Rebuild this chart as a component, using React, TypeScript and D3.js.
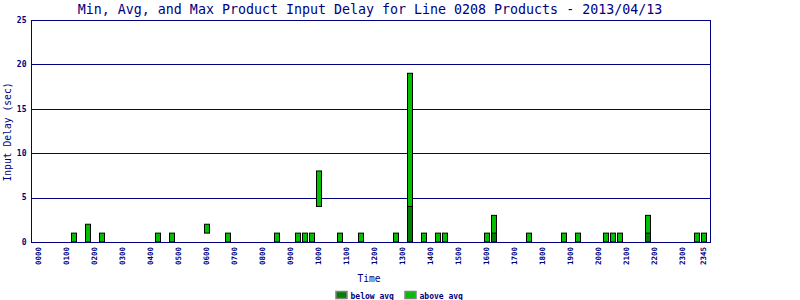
import React from "react";
import * as d3 from "d3";

const slots: string[] = [];
for (let h = 0; h < 24; h++) for (let m = 0; m < 60; m += 15) slots.push(String(h).padStart(2, "0") + String(m).padStart(2, "0"));

const tickLabels = ["0000","0100","0200","0300","0400","0500","0600","0700","0800","0900","1000","1100","1200","1300","1400","1500","1600","1700","1800","1900","2000","2100","2200","2300","2345"];
const yTicks = [0, 5, 10, 15, 20, 25];

const barTimes = ["0115","0145","0215","0415","0445","0600","0645","0830","0915","0930","0945","1000","1045","1130","1245","1315","1345","1415","1430","1600","1615","1730","1845","1915","2015","2030","2045","2145","2330","2345"];
const minValues = [0,0,0,0,0,1,0,0,0,0,0,4,0,0,0,0,0,0,0,0,0,0,0,0,0,0,0,0,0,0];
const avgValues = [0,0,0,0,0,1,0,0,0,0,0,4,0,0,0,4,0,0,0,0,1,0,0,0,0,0,0,1,0,0];
const maxValues = [1,2,1,1,1,2,1,1,1,1,1,8,1,1,1,19,1,1,1,1,3,1,1,1,1,1,1,3,1,1];

const NAVY = "#000080";
const DARK = "#008000";
const LIGHT = "#00c000";
const MONO = "'DejaVu Sans Mono', monospace";

export default function App() {
  const left = 31, right = 710, top = 20, bottom = 242;
  const x = d3.scalePoint<string>().domain(slots).range([39, 704]);
  const y = d3.scaleLinear().domain([0, 25]).range([bottom, top]);
  const bw = 5;

  return (
    <svg width={800} height={300} style={{ position: "absolute", left: 0, top: 0, background: "#fff" }}>
      <rect x={0} y={0} width={800} height={300} fill="#fff" />
      <text x={370} y={13.5} textAnchor="middle" fontFamily={MONO} fontSize={13.3} fill={NAVY}>
        Min, Avg, and Max Product Input Delay for Line 0208 Products - 2013/04/13
      </text>
      {yTicks.map((t) => (
        <g key={t}>
          {t > 0 && <line x1={left} x2={right} y1={Math.round(y(t)) + 0.5} y2={Math.round(y(t)) + 0.5} stroke={NAVY} strokeWidth={1} />}
          <text x={26.5} y={y(t)} dy="0.35em" textAnchor="end" fontFamily={MONO} fontSize={8} fontWeight="bold" fill={NAVY}>{t}</text>
        </g>
      ))}
      <line x1={left + 0.5} x2={left + 0.5} y1={top} y2={bottom} stroke={NAVY} />
      <line x1={right + 0.5} x2={right + 0.5} y1={top} y2={bottom} stroke={NAVY} />
      {barTimes.map((t, i) => {
        const cx = x(t)!;
        const yMin = y(minValues[i]);
        const yAvg = y(avgValues[i]);
        const yMax = y(maxValues[i]);
        return (
          <g key={t}>
            {avgValues[i] > minValues[i] && (
              <rect x={cx - 2.5} y={yAvg} width={bw} height={yMin - yAvg} fill={DARK} stroke="#000" strokeWidth={1} />
            )}
            {maxValues[i] > avgValues[i] && (
              <rect x={cx - 2.5} y={yMax} width={bw} height={yAvg - yMax} fill={LIGHT} stroke="#000" strokeWidth={1} />
            )}
          </g>
        );
      })}
      <line x1={left} x2={right + 1} y1={bottom + 0.5} y2={bottom + 0.5} stroke={NAVY} />
      {tickLabels.map((t) => (
        <text key={t} transform={`translate(${x(t)! - 0.7},247) rotate(-90)`} textAnchor="end" dy="0.35em" fontFamily={MONO} fontSize={7.5} fontWeight="bold" fill={NAVY}>{t}</text>
      ))}
      <text x={369} y={281.5} textAnchor="middle" fontFamily={MONO} fontSize={9.6} fill={NAVY}>Time</text>
      <text transform="translate(8,132) rotate(-90)" textAnchor="middle" dy="0.35em" fontFamily={MONO} fontSize={9.7} fill={NAVY}>Input Delay (sec)</text>
      <rect x={336} y={291.5} width={11} height={7} fill={DARK} stroke="#808080" strokeWidth={1.5} />
      <text x={350.5} y={298.5} fontFamily={MONO} fontSize={8} fontWeight="bold" fill={NAVY}>below avg</text>
      <rect x={405} y={291.5} width={11} height={7} fill={LIGHT} stroke="#808080" strokeWidth={1.5} />
      <text x={419.5} y={298.5} fontFamily={MONO} fontSize={8} fontWeight="bold" fill={NAVY}>above avg</text>
    </svg>
  );
}
